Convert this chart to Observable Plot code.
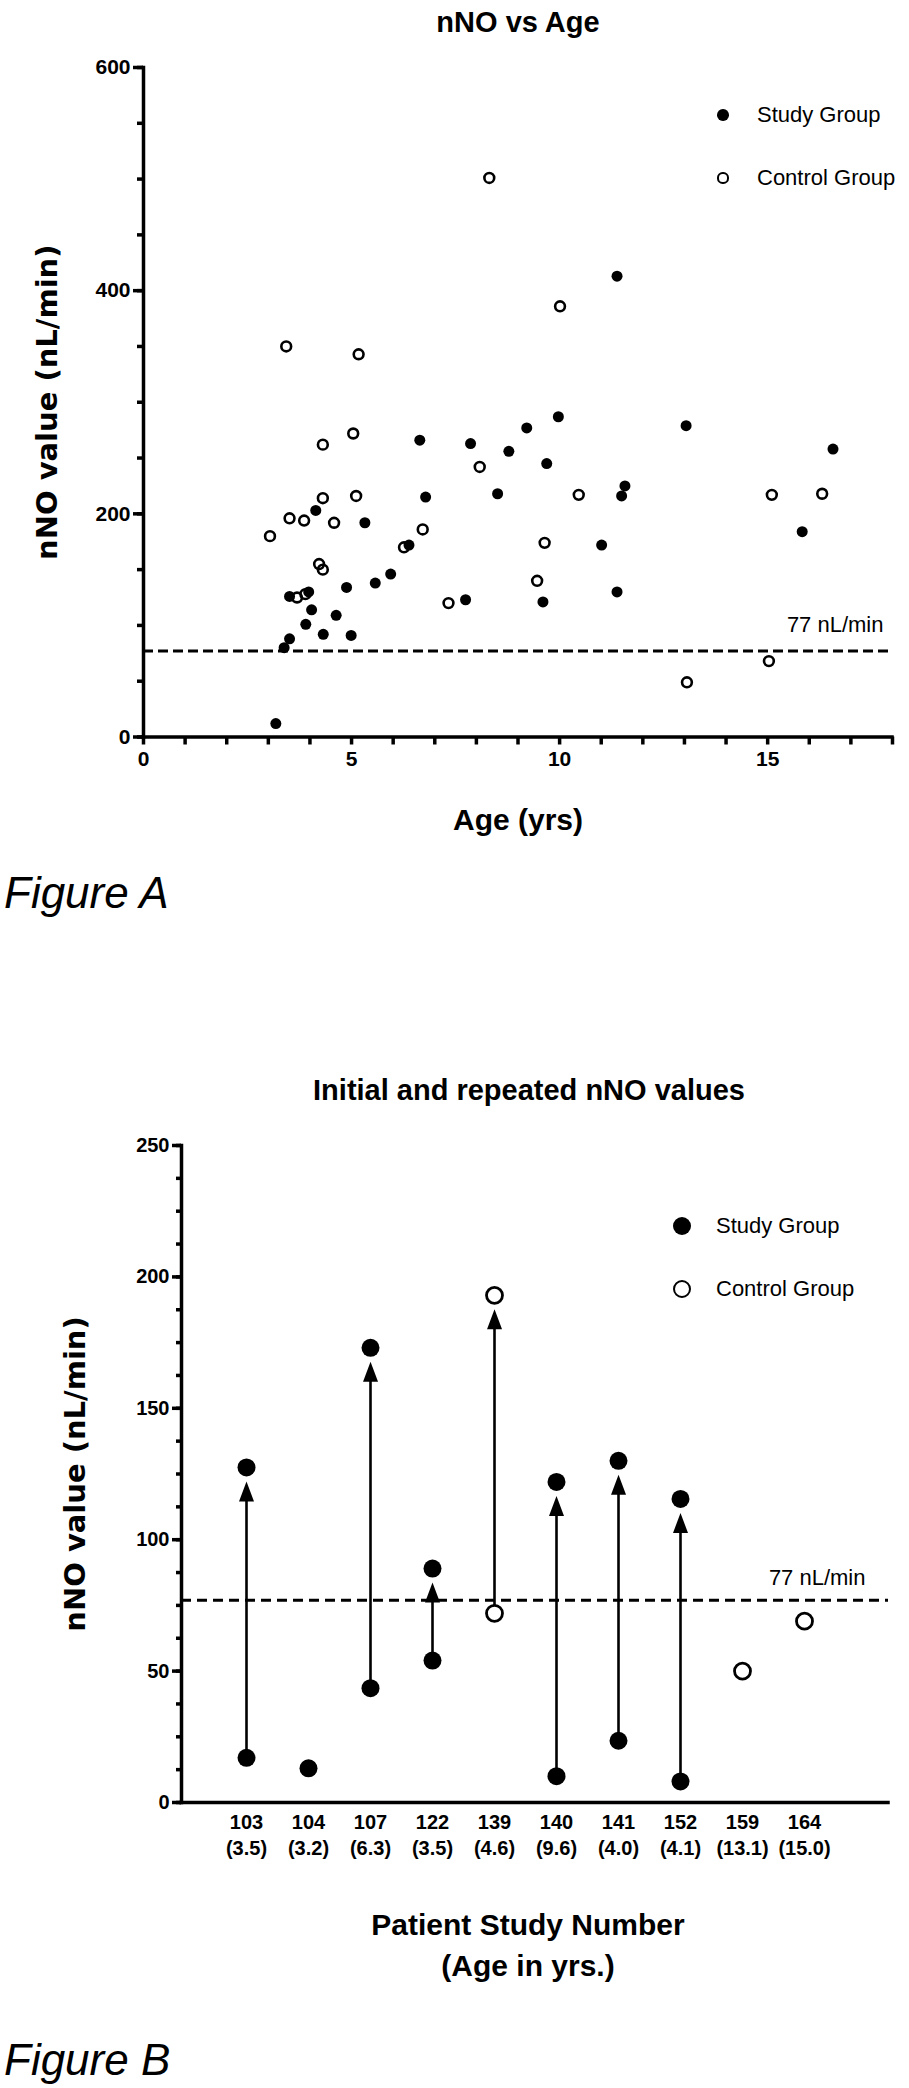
<!DOCTYPE html>
<html><head><meta charset="utf-8">
<script src="https://cdn.jsdelivr.net/npm/d3@7"></script>
<script src="https://cdn.jsdelivr.net/npm/@observablehq/plot@0.6"></script>
<style>
body{margin:0;background:#fff;}
#page{position:relative;width:909px;height:2088px;overflow:hidden;font-family:'Liberation Sans',Arial,sans-serif;color:#000;}
.abs{position:absolute;}
.cap{font-style:italic;font-size:44px;line-height:44px;left:4px;white-space:nowrap;}
.leg{font-size:22px;line-height:22px;white-space:nowrap;}
.sw{position:absolute;border-radius:50%;box-sizing:border-box;}
svg{overflow:visible;}
</style></head><body><div id="page"></div>
<script>
// ---------- Figure A data ----------
const studyAge = [11.38, 9.97, 13.04, 9.21, 6.64, 7.86, 8.78, 16.57, 9.69, 8.51, 11.57, 11.49, 6.78, 4.14, 5.32, 15.83, 11.01, 6.38, 5.94, 5.57, 4.88, 11.38, 3.51, 3.97, 7.74, 9.6, 4.04, 4.63, 3.9, 4.32, 4.99, 3.51, 3.38, 3.18];
const studyNNO = [413, 287, 279, 277, 266, 263, 256, 258, 245, 218, 225, 216, 215, 203, 192, 184, 172, 172, 146, 138, 134, 130, 126, 130, 123, 121, 114, 109, 101, 92, 91, 88, 80, 12];
const controlAge = [8.31, 10.01, 3.43, 5.17, 5.04, 4.31, 8.08, 10.46, 15.1, 16.31, 4.31, 5.11, 3.51, 3.86, 4.58, 3.04, 6.71, 9.64, 6.26, 4.22, 4.31, 9.46, 3.69, 3.89, 7.33, 15.03, 13.06];
const controlNNO = [501, 386, 350, 343, 272, 262, 242, 217, 217, 218, 214, 216, 196, 194, 192, 180, 186, 174, 170, 155, 150, 140, 125, 128, 120, 68, 49];
const thresholdNNO = [77];
const yMajorA = [0, 200, 400, 600];
const yMinorA = [0, 50, 100, 150, 200, 250, 300, 350, 400, 450, 500, 550, 600];
const xTicksA = [0, 1, 2, 3, 4, 5, 6, 7, 8, 9, 10, 11, 12, 13, 14, 15, 16, 17, 18];
const xLabelsA = [0, 5, 10, 15];

// ---------- Figure B data ----------
const patients = ["103", "104", "107", "122", "139", "140", "141", "152", "159", "164"];
const patientAges = ["3.5", "3.2", "6.3", "3.5", "4.6", "9.6", "4.0", "4.1", "13.1", "15.0"];
const groupB = ["Study", "Study", "Study", "Study", "Control", "Study", "Study", "Study", "Control", "Control"];
const initialNNO = [17, 13, 43.5, 54, 72, 10, 23.5, 8, 50, 69];
const repeatedNNO = [127.5, null, 173, 89, 193, 122, 130, 115.5, null, null];
const yMajorB = [0, 50, 100, 150, 200, 250];
const yMinorB = [0, 12.5, 25, 37.5, 50, 62.5, 75, 87.5, 100, 112.5, 125, 137.5, 150, 162.5, 175, 187.5, 200, 212.5, 225, 237.5, 250];

const page = document.getElementById("page");
const FONT = "'Liberation Sans', Arial, Helvetica, sans-serif";
const WIDE = "'DejaVu Sans', Verdana, sans-serif";

// ---------- Figure A ----------
const study = studyAge.map((a, i) => ({age: a, nno: studyNNO[i]}));
const control = controlAge.map((a, i) => ({age: a, nno: controlNNO[i]}));

const A = {w: 909, h: 860, mt: 67, mb: 123.5, ml: 143, mr: 17};
const frameWA = A.w - A.ml - A.mr, frameHA = A.h - A.mt - A.mb;

const plotA = Plot.plot({
  width: A.w, height: A.h,
  marginTop: A.mt, marginBottom: A.mb, marginLeft: A.ml, marginRight: A.mr,
  x: {domain: [0, 18], label: null},
  y: {domain: [0, 600], label: null},
  style: {fontFamily: FONT, color: "black", background: "white", overflow: "visible"},
  marks: [
    Plot.ruleY(thresholdNNO, {y: d => d, stroke: "black", strokeWidth: 3, strokeDasharray: "10,5"}),
    Plot.text(thresholdNNO, {y: d => d, frameAnchor: "right", text: d => `${d} nL/min`, textAnchor: "end", lineAnchor: "middle", dx: -9, dy: -26, fontSize: 22, fill: "black"}),
    Plot.dot(study, {x: "age", y: "nno", r: 5.5, fill: "black"}),
    Plot.dot(control, {x: "age", y: "nno", r: 4.9, stroke: "black", strokeWidth: 2.6, fill: "none"}),
    // tick marks
    Plot.ruleY(yMinorA, {y: d => d, insetLeft: -6, insetRight: frameWA, stroke: "black", strokeWidth: 3.5}),
    Plot.ruleY(yMajorA, {y: d => d, insetLeft: -10, insetRight: frameWA, stroke: "black", strokeWidth: 3.5}),
    Plot.ruleX(xTicksA, {x: d => d, insetTop: frameHA, insetBottom: -8, stroke: "black", strokeWidth: 3.5}),
    // tick labels
    Plot.axisY({ticks: yMajorA, tickSize: 0, tickPadding: 13, fontSize: 21, fontWeight: "bold", fill: "black", label: null}),
    Plot.axisX({ticks: xLabelsA, tickSize: 0, tickPadding: 14, fontSize: 21, fontWeight: "bold", fill: "black", label: null}),
    // axis lines
    Plot.frame({anchor: "left", stroke: "black", strokeWidth: 3.5, strokeLinecap: "square"}),
    Plot.ruleY([0], {stroke: "black", strokeWidth: 3.5, strokeLinecap: "square"}),
    // titles
    Plot.text(["nNO vs Age"], {frameAnchor: "top", lineAnchor: "middle", dy: -45, fontSize: 29, fontWeight: "bold", fill: "black"}),
    Plot.text(["Age (yrs)"], {frameAnchor: "bottom", lineAnchor: "middle", dy: 83.5, fontSize: 30, fontWeight: "bold", fill: "black"}),
    Plot.text(["nNO value (nL/min)"], {frameAnchor: "left", textAnchor: "middle", lineAnchor: "middle", rotate: -90, dx: -96, fontFamily: WIDE, fontSize: 29, fontWeight: "bold", fill: "black"})
  ]
});
plotA.style.position = "absolute";
plotA.style.left = "0px";
plotA.style.top = "0px";
page.appendChild(plotA);

// ---------- Figure B ----------
const rowsB = [];
patients.forEach((p, i) => {
  rowsB.push({patient: p, nno: initialNNO[i], group: groupB[i]});
  if (repeatedNNO[i] != null) rowsB.push({patient: p, nno: repeatedNNO[i], group: groupB[i]});
});
const pairs = patients.map((p, i) => ({patient: p, initial: initialNNO[i], repeated: repeatedNNO[i]})).filter(d => d.repeated != null);
const ageOf = new Map(patients.map((p, i) => [p, patientAges[i]]));
const arrowHead = {draw(ctx) { ctx.moveTo(0, 0); ctx.lineTo(7.5, 20); ctx.lineTo(-7.5, 20); ctx.closePath(); }};

const B = {w: 909, h: 1048, mt: 105, mb: 286, ml: 181, mr: 21, top: 1040};
const frameWB = B.w - B.ml - B.mr;

const plotB = Plot.plot({
  width: B.w, height: B.h,
  marginTop: B.mt, marginBottom: B.mb, marginLeft: B.ml, marginRight: B.mr,
  x: {type: "point", domain: patients, range: [213, 837], label: null},
  y: {domain: [0, 250], label: null},
  style: {fontFamily: FONT, color: "black", background: "white", overflow: "visible"},
  marks: [
    Plot.ruleY(thresholdNNO, {y: d => d, stroke: "black", strokeWidth: 3, strokeDasharray: "10,6"}),
    Plot.text(thresholdNNO, {y: d => d, frameAnchor: "right", text: d => `${d} nL/min`, textAnchor: "end", lineAnchor: "middle", dx: -23, dy: -22, fontSize: 22, fill: "black"}),
    Plot.ruleX(pairs, {x: "patient", y1: "repeated", y2: "initial", stroke: "black", strokeWidth: 2.6, insetTop: 26}),
    Plot.dot(pairs, {x: "patient", y: "repeated", symbol: arrowHead, fill: "black", stroke: "none", dy: 14}),
    Plot.dot(rowsB.filter(d => d.group === "Study"), {x: "patient", y: "nno", r: 9, fill: "black"}),
    Plot.dot(rowsB.filter(d => d.group === "Control"), {x: "patient", y: "nno", r: 8, stroke: "black", strokeWidth: 2.8, fill: "white"}),
    // tick marks
    Plot.ruleY(yMinorB, {y: d => d, insetLeft: -5, insetRight: frameWB, stroke: "black", strokeWidth: 3.5}),
    Plot.ruleY(yMajorB, {y: d => d, insetLeft: -9, insetRight: frameWB, stroke: "black", strokeWidth: 3.5}),
    // tick labels
    Plot.axisY({ticks: yMajorB, tickSize: 0, tickPadding: 12, fontSize: 20, fontWeight: "bold", fill: "black", label: null}),
    Plot.axisX({tickSize: 0, tickPadding: 8, tickFormat: d => `${d}\n(${ageOf.get(d)})`, lineHeight: 1.3, fontSize: 20, fontWeight: "bold", fill: "black", label: null}),
    // axis lines
    Plot.frame({anchor: "left", stroke: "black", strokeWidth: 3.5, strokeLinecap: "square"}),
    Plot.ruleY([0], {stroke: "black", strokeWidth: 3.5, strokeLinecap: "square"}),
    // titles
    Plot.text(["Initial and repeated nNO values"], {frameAnchor: "top", lineAnchor: "middle", dy: -55, dx: -6, fontSize: 29, fontWeight: "bold", fill: "black"}),
    Plot.text(["Patient Study Number\n(Age in yrs.)"], {frameAnchor: "bottom", lineAnchor: "middle", dy: 139.5, dx: -7, lineHeight: 1.37, fontSize: 30, fontWeight: "bold", fill: "black"}),
    Plot.text(["nNO value (nL/min)"], {frameAnchor: "left", textAnchor: "middle", lineAnchor: "middle", rotate: -90, dx: -106, fontFamily: WIDE, fontSize: 29, fontWeight: "bold", fill: "black"})
  ]
});
plotB.style.position = "absolute";
plotB.style.left = "0px";
plotB.style.top = B.top + "px";
page.appendChild(plotB);

// ---------- HTML legends and captions ----------
function addSwatch(cx, cy, r, filled, sw) {
  const d = document.createElement("div");
  d.className = "sw";
  d.style.left = (cx - r) + "px";
  d.style.top = (cy - r) + "px";
  d.style.width = (2 * r) + "px";
  d.style.height = (2 * r) + "px";
  if (filled) d.style.background = "#000";
  else { d.style.border = sw + "px solid #000"; d.style.background = "#fff"; }
  page.appendChild(d);
}
function addText(txt, left, baseline, cls, size) {
  const d = document.createElement("div");
  d.className = "abs " + cls;
  d.textContent = txt;
  d.style.left = left + "px";
  d.style.top = (baseline - 0.848 * size) + "px";
  page.appendChild(d);
}
// legend A
addSwatch(723, 115, 5.8, true);
addSwatch(723, 178, 5.6, false, 2.5);
addText("Study Group", 757, 123, "leg", 22);
addText("Control Group", 757, 186, "leg", 22);
// legend B
addSwatch(682, 1226, 9, true);
addSwatch(682, 1289, 9, false, 2.8);
addText("Study Group", 716, 1234, "leg", 22);
addText("Control Group", 716, 1297, "leg", 22);
// captions
addText("Figure A", 4, 908, "cap", 44);
addText("Figure B", 4, 2075, "cap", 44);
</script></body></html>
